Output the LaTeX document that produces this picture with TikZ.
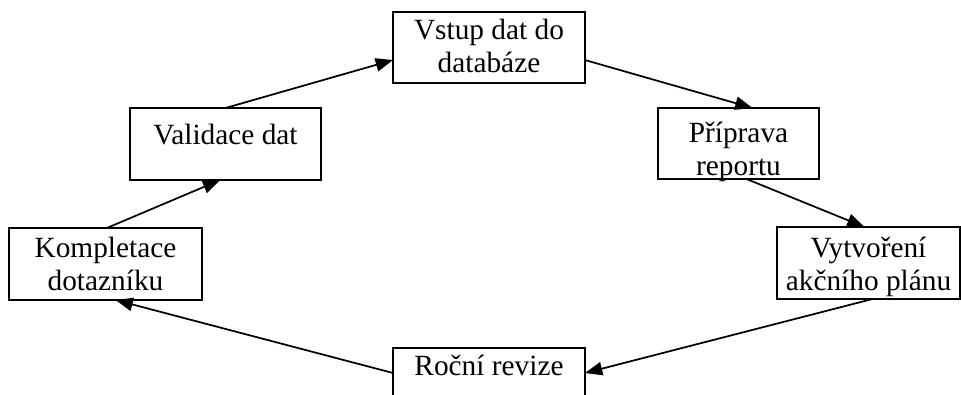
\documentclass[tikz,border=0pt]{standalone}
\usepackage{fontspec}
\setmainfont{Liberation Serif}
\usetikzlibrary{arrows.meta}
\tikzset{
  stepbox/.style={draw=black, line width=1.2pt, inner sep=0pt, outer sep=0pt},
  steptext/.style={anchor=north, inner sep=0pt, align=center, font=\fontsize{22}{24.75}\selectfont},
  flow/.style={line width=1.3pt, -{Triangle[length=13pt,width=10pt]}}
}
\begin{document}
\begin{tikzpicture}[x=0.75pt, y=-0.75pt]
\useasboundingbox (0,0) rectangle (961,394);
% boxes
\node[stepbox, minimum width=144pt, minimum height=53.25pt] (b1) at (489,47.5) {};
\node[stepbox, minimum width=143.25pt, minimum height=54pt] (b2) at (225.5,144) {};
\node[stepbox, minimum width=120.75pt, minimum height=53.25pt] (b3) at (738.5,143.5) {};
\node[stepbox, minimum width=144.75pt, minimum height=54pt] (b4) at (105.5,264) {};
\node[stepbox, minimum width=137.25pt, minimum height=54pt] (b5) at (868.5,263) {};
\node[stepbox, minimum width=144pt, minimum height=37.5pt] (b6) at (489,373) {};
% texts
\node[steptext] (t1) at (489,16) {\strut Vstup dat do\\databáze};
\node[steptext] (t2) at (225.5,121.6) {\strut Validace dat};
\node[steptext] (t3) at (738.5,119.6) {\strut Příprava\\reportu};
\node[steptext] (t4) at (105.5,234) {\strut Kompletace\\dotazníku};
\node[steptext] (t5) at (868.5,234) {\strut Vytvoření\\akčního plánu};
\node[steptext] (t6) at (489,352.6) {\strut Roční revize};
% connectors
\draw[flow] ([xshift=1pt]b4.north) -- ([xshift=-4pt]b2.south);
\draw[flow] (b2.north) -- ([yshift=-9.4pt]b1.west);
\draw[flow] ([yshift=-9.4pt]b1.east) -- ([xshift=10.5pt]b3.south |- b3.north);
\draw[flow] ([xshift=6pt]b3.south) -- ([xshift=-3pt]b5.north);
\draw[flow] ([xshift=3pt]b5.south) -- (b6.east);
\draw[flow] (b6.west) -- ([xshift=7.5pt]b4.south);
\end{tikzpicture}
\end{document}
